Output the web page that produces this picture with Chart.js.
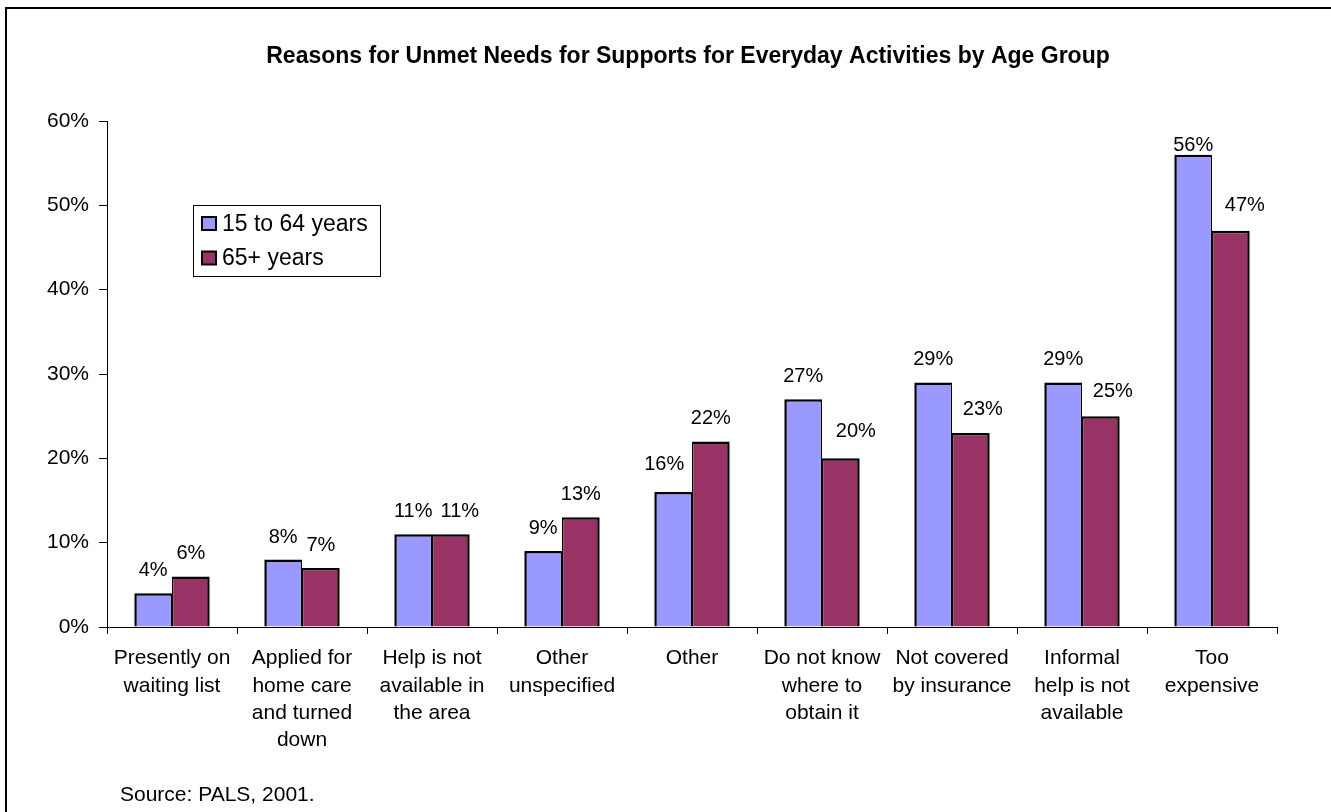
<!DOCTYPE html>
<html>
<head>
<meta charset="utf-8">
<script src="https://cdn.jsdelivr.net/npm/chart.js@4"></script>
<style>
  html, body { margin: 0; padding: 0; background: #fff; }
  #wrap { width: 1331px; height: 812px; }
</style>
</head>
<body>
<div id="wrap"><canvas id="c" width="1331" height="812"></canvas></div>
<script>
const categories = [
  ['Presently on', 'waiting list'],
  ['Applied for', 'home care', 'and turned', 'down'],
  ['Help is not', 'available in', 'the area'],
  ['Other', 'unspecified'],
  'Other',
  ['Do not know', 'where to', 'obtain it'],
  ['Not covered', 'by insurance'],
  ['Informal', 'help is not', 'available'],
  ['Too', 'expensive']
];
const seriesNames = ['15 to 64 years', '65+ years'];
const age15to64 = [4, 8, 11, 9, 16, 27, 29, 29, 56];
const age65plus = [6, 7, 11, 13, 22, 20, 23, 25, 47];
const yTicks = [0, 10, 20, 30, 40, 50, 60];

const titleText = 'Reasons for Unmet Needs for Supports for Everyday Activities by Age Group';
const sourceText = 'Source: PALS, 2001.';
const FONT = '"Liberation Sans", Arial, Helvetica, sans-serif';

// Frame, title, legend box and source note
const decorations = {
  id: 'decorations',
  beforeDraw(chart) {
    const ctx = chart.ctx;
    ctx.save();
    ctx.fillStyle = '#fff';
    ctx.fillRect(0, 0, chart.width, chart.height);
    ctx.strokeStyle = '#000';
    ctx.lineWidth = 2;
    ctx.strokeRect(6, 8, chart.width + 20, chart.height + 20);
    ctx.restore();
  },
  afterDraw(chart) {
    const ctx = chart.ctx;
    ctx.save();
    ctx.fillStyle = '#000';
    ctx.textBaseline = 'middle';
    ctx.textAlign = 'center';
    ctx.font = 'bold 23px ' + FONT;
    ctx.fillText(titleText, 688, 57);

    // legend
    ctx.strokeStyle = '#000';
    ctx.lineWidth = 1;
    ctx.strokeRect(193.5, 205.5, 187, 71);
    ctx.font = '23px ' + FONT;
    ctx.textAlign = 'left';
    chart.data.datasets.forEach((ds, i) => {
      const y = 217 + i * 34.5;
      ctx.fillStyle = ds.backgroundColor;
      ctx.fillRect(202, y, 14, 13);
      ctx.lineWidth = 2;
      ctx.strokeStyle = '#000';
      ctx.strokeRect(202, y, 14, 13);
      ctx.fillStyle = '#000';
      ctx.fillText(ds.label, 222, y + 7.5);
    });

    ctx.font = '21px ' + FONT;
    ctx.fillText(sourceText, 120, 795);
    ctx.restore();
  }
};

// Value labels above each bar
const valueLabels = {
  id: 'valueLabels',
  afterDatasetsDraw(chart, args, opts) {
    const ctx = chart.ctx;
    ctx.save();
    ctx.font = '20px ' + FONT;
    ctx.fillStyle = '#000';
    ctx.textAlign = 'center';
    ctx.textBaseline = 'alphabetic';
    chart.data.datasets.forEach((ds, di) => {
      const meta = chart.getDatasetMeta(di);
      meta.data.forEach((bar, i) => {
        const n = (opts.nudge[di] && opts.nudge[di][i]) || [0, 0];
        ctx.fillText(ds.data[i] + '%', bar.x + n[0], bar.y - opts.gap + n[1]);
      });
    });
    ctx.restore();
  }
};

new Chart(document.getElementById('c'), {
  type: 'bar',
  data: {
    labels: categories,
    datasets: [
      {
        label: seriesNames[0],
        data: age15to64,
        backgroundColor: '#9999FF',
        borderColor: '#000',
        borderWidth: { top: 2.5, left: 2.5, right: 1.25, bottom: 0 },
        categoryPercentage: 0.58,
        barPercentage: 1.0
      },
      {
        label: seriesNames[1],
        data: age65plus,
        backgroundColor: '#993366',
        borderColor: '#000',
        borderWidth: { top: 2.5, left: 1.25, right: 2.5, bottom: 0 },
        categoryPercentage: 0.58,
        barPercentage: 1.0
      }
    ]
  },
  options: {
    responsive: false,
    animation: false,
    events: [],
    layout: { padding: { left: 0, top: 121, right: 54, bottom: 0 } },
    plugins: {
      legend: { display: false },
      title: { display: false },
      tooltip: { enabled: false },
      valueLabels: {
        gap: 17,
        nudge: {
          0: { 4: [-9, -5], 8: [0, 13] },
          1: { 2: [9, 0], 5: [15, -4], 6: [12, -1], 7: [12, -2], 8: [14, -3] }
        }
      }
    },
    scales: {
      x: {
        offset: true,
        grid: {
          offset: true,
          drawOnChartArea: false,
          drawTicks: true,
          tickLength: 7,
          color: '#000',
          lineWidth: 1
        },
        border: { display: true, color: '#000', width: 1 },
        ticks: {
          color: '#000',
          font: { family: FONT, size: 21, lineHeight: 1.3 },
          padding: 11,
          maxRotation: 0,
          autoSkip: false
        },
        afterFit(scale) { scale.height = 185; }
      },
      y: {
        min: 0,
        max: 60,
        afterBuildTicks(scale) { scale.ticks = yTicks.map(v => ({ value: v })); },
        grid: {
          drawOnChartArea: false,
          drawTicks: true,
          tickLength: 8,
          color: '#000',
          lineWidth: 1
        },
        border: { display: true, color: '#000', width: 1 },
        ticks: {
          color: '#000',
          font: { family: FONT, size: 21 },
          padding: 10,
          callback: v => v + '%'
        },
        afterFit(scale) { scale.width = 107; }
      }
    }
  },
  plugins: [decorations, valueLabels]
});
</script>
</body>
</html>
